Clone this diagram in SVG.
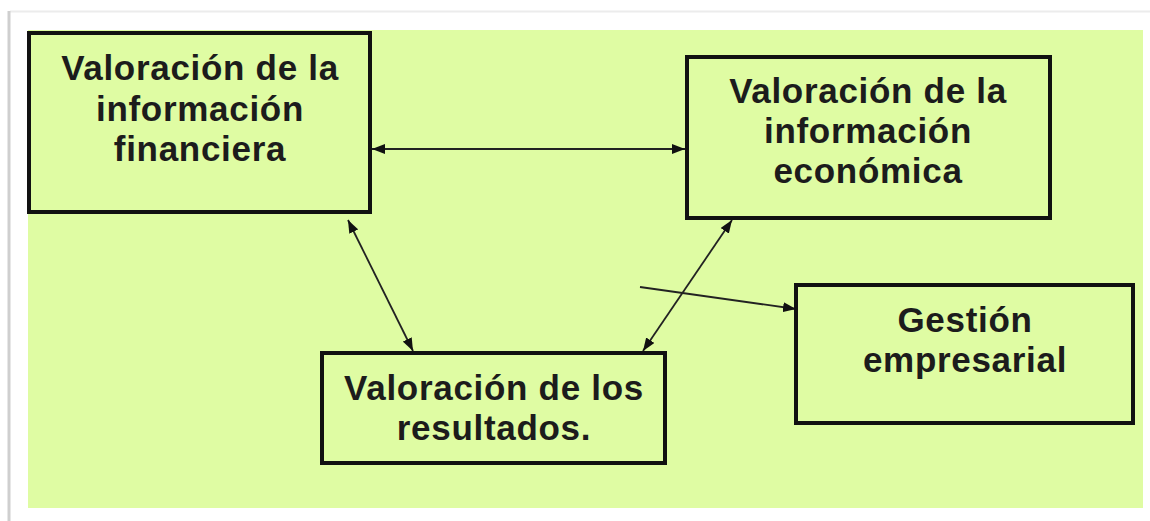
<svg xmlns="http://www.w3.org/2000/svg" width="1150" height="521" viewBox="0 0 1150 521">
  <defs>
    <style>
      .box { fill: none; stroke: #111; stroke-width: 4; }
      .lbl { font-family: "Liberation Sans", Arial, sans-serif; font-weight: bold; font-size: 35px; fill: #1c1c1c; text-anchor: middle; letter-spacing: 0.7px; }
      .conn { stroke: #222; stroke-width: 1.8; fill: none; }
    </style>
    <marker id="ah" viewBox="0 0 13 10" refX="13" refY="5" markerWidth="13" markerHeight="10" markerUnits="userSpaceOnUse" orient="auto-start-reverse">
      <path d="M0,0 L13,5 L0,10 Z" fill="#111"/>
    </marker>
  </defs>
  <rect x="0" y="0" width="1150" height="521" fill="#ffffff"/>
  <g id="frame">
    <line x1="10" y1="11.5" x2="1150" y2="11.5" stroke="#ececec" stroke-width="2"/>
    <line x1="9" y1="11" x2="9" y2="521" stroke="#cfcfcf" stroke-width="3"/>
    <rect x="28" y="30" width="1115" height="478" fill="#dffca3"/>
  </g>
  <g id="connectors">
    <line class="conn" x1="372" y1="149" x2="685" y2="149" marker-start="url(#ah)" marker-end="url(#ah)"/>
    <line class="conn" x1="348" y1="220" x2="413" y2="351" marker-start="url(#ah)" marker-end="url(#ah)"/>
    <line class="conn" x1="732" y1="220" x2="643" y2="351" marker-start="url(#ah)" marker-end="url(#ah)"/>
    <line class="conn" x1="640" y1="287" x2="796" y2="309" marker-end="url(#ah)"/>
  </g>
  <g id="node-financiera">
    <rect class="box" x="29" y="33" width="341" height="179"/>
    <text class="lbl" x="200" y="80">Valoración de la</text>
    <text class="lbl" x="200" y="121">información</text>
    <text class="lbl" x="200" y="161">financiera</text>
  </g>
  <g id="node-economica">
    <rect class="box" x="687" y="57" width="363" height="161"/>
    <text class="lbl" x="868" y="103">Valoración de la</text>
    <text class="lbl" x="868" y="143">información</text>
    <text class="lbl" x="868" y="183">económica</text>
  </g>
  <g id="node-resultados">
    <rect class="box" x="322" y="353" width="343" height="110"/>
    <text class="lbl" x="494" y="400">Valoración de los</text>
    <text class="lbl" x="494" y="440">resultados.</text>
  </g>
  <g id="node-gestion">
    <rect class="box" x="796" y="285" width="337" height="138"/>
    <text class="lbl" x="965" y="332">Gestión</text>
    <text class="lbl" x="965" y="372">empresarial</text>
  </g>
</svg>
